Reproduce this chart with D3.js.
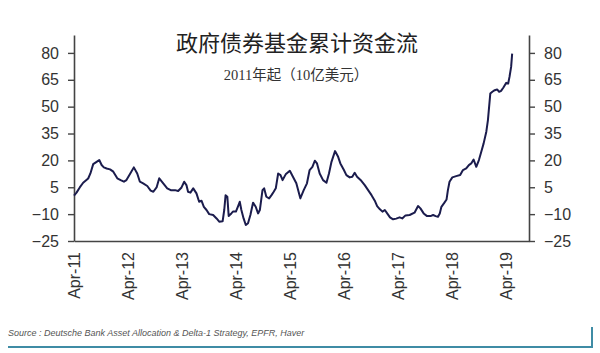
<!DOCTYPE html>
<html>
<head>
<meta charset="utf-8">
<script src="https://cdn.jsdelivr.net/npm/d3@7"></script>
<style>
  body { margin: 0; background: #fff; }
  svg { display: block; }
  .tick text { font-family: "Liberation Sans", Arial, sans-serif; fill: #333; }
</style>
</head>
<body>
<svg id="chart"></svg>
<script>
// cumulative flows into government bond funds since 2011, USD bn (x10)
const dates = [
  '2011-04-01','2011-04-18','2011-05-10','2011-06-02','2011-07-06','2011-07-21','2011-08-09','2011-09-01',
  '2011-09-19','2011-10-05','2011-10-20','2011-11-08','2011-12-01','2011-12-23','2012-01-19','2012-02-11',
  '2012-03-04','2012-03-21','2012-04-13','2012-05-10','2012-06-02','2012-06-20','2012-07-12','2012-08-09',
  '2012-09-01','2012-09-19','2012-10-11','2012-10-29','2012-11-25','2012-12-22','2013-01-15','2013-02-13',
  '2013-03-06','2013-03-29','2013-04-16','2013-05-01','2013-05-12','2013-05-28','2013-06-16','2013-07-08',
  '2013-07-26','2013-08-11','2013-08-27','2013-09-14','2013-10-02','2013-10-29','2013-11-21','2013-12-09',
  '2014-01-01','2014-01-12','2014-01-21','2014-02-02','2014-02-11','2014-03-01','2014-03-12','2014-04-01',
  '2014-04-16','2014-04-27','2014-05-08','2014-05-23','2014-06-07','2014-06-22','2014-07-08','2014-07-26',
  '2014-08-13','2014-08-29','2014-09-10','2014-09-28','2014-10-09','2014-10-24','2014-11-12','2014-11-28',
  '2014-12-13','2014-12-27','2015-01-12','2015-01-28','2015-02-11','2015-03-04','2015-04-01','2015-04-22',
  '2015-05-15','2015-06-11','2015-07-04','2015-07-26','2015-08-13','2015-09-01','2015-09-17','2015-10-02',
  '2015-10-20','2015-11-12','2015-12-05','2015-12-22','2016-01-08','2016-02-01','2016-02-22','2016-03-08',
  '2016-04-01','2016-04-18','2016-05-10','2016-05-28','2016-06-13','2016-06-29','2016-07-28','2016-08-20',
  '2016-09-12','2016-10-05','2016-10-27','2016-11-12','2016-12-01','2016-12-18','2017-01-03','2017-01-19',
  '2017-02-07','2017-02-28','2017-03-21','2017-04-13','2017-05-01','2017-05-23','2017-06-20','2017-07-23',
  '2017-08-16','2017-09-01','2017-09-23','2017-10-16','2017-11-08','2017-11-26','2017-12-13','2017-12-29',
  '2018-01-10','2018-01-21','2018-02-07','2018-02-25','2018-03-06','2018-03-17','2018-04-05','2018-05-01',
  '2018-05-28','2018-06-16','2018-07-08','2018-07-26','2018-08-11','2018-08-27','2018-09-14','2018-10-02',
  '2018-10-18','2018-11-03','2018-11-21','2018-12-02','2018-12-18','2019-01-01','2019-01-17','2019-02-02',
  '2019-02-16','2019-03-01','2019-03-17','2019-04-05','2019-04-18','2019-04-27','2019-05-08','2019-05-15'
];
const flows = [
  0.3, 2, 4.9, 7.5, 9.9, 12.7, 17.9, 19.2,
  20.2, 17.4, 16.1, 15.5, 15, 13.7, 10, 9,
  8.1, 9, 12.2, 16.1, 12.7, 8.1, 7.2, 5.7,
  3.1, 2.5, 4.9, 10, 7.2, 4.4, 3.4, 3.4,
  2.9, 4.9, 8.1, 6.2, 2.5, 2, 4.4, 1.6,
  -3.1, -2.5, -5.9, -7.7, -10, -10.5, -12.4, -14.2,
  -14, -7.7, 0.5, -0.3, -11, -9.6, -8.6, -8.6,
  -5.5, -3.1, -7.7, -12.4, -16.1, -15.1, -10.5, -3.6,
  -5.9, -9.6, -7.7, 3.4, 4.4, -0.3, -1.2, 0.6,
  2.5, 4.4, 12.7, 11.8, 9, 12.2, 14.2, 10.9,
  7.2, -1.2, 3.4, 7.2, 14.6, 16.4, 19.8, 18.3,
  12.7, 9, 7.5, 12.7, 19.2, 25.2, 22, 18.3,
  14.6, 11.8, 10.5, 10.9, 13.1, 10.9, 8.6, 6.2,
  3.4, 0.6, -2.5, -5.5, -7.3, -8.6, -7.7, -9.6,
  -11.8, -12.9, -12.5, -11.8, -12.4, -10.7, -10.5, -9.2,
  -5.5, -6.8, -9.6, -11.1, -11.1, -10.5, -11.1, -11.5,
  -9.6, -5.9, -4, -1.8, 3.4, 8.1, 10.5, 11.2,
  11.8, 14.6, 15.5, 17.4, 18.3, 20.5, 16.4, 20.2,
  24.8, 29.5, 36, 42.5, 57.3, 58.3, 59.2, 59.6,
  58.3, 58.8, 60.7, 63.3, 62.9, 66.6, 72.2, 79.6
];
const yTicks = [-25, -10, 5, 20, 35, 50, 65, 80];
const tickYears = [2011, 2012, 2013, 2014, 2015, 2016, 2017, 2018, 2019];
const title = '政府债券基金累计资金流';
const subtitle = '2011年起（10亿美元）';
const source = 'Source : Deutsche Bank Asset Allocation & Delta-1 Strategy, EPFR, Haver';

const width = 600, height = 353;
const margin = {top: 35, right: 71, bottom: 112, left: 74};

const parse = d3.timeParse('%Y-%m-%d');
const data = dates.map((d, i) => ({date: parse(d), value: flows[i]}));

const svg = d3.select('#chart')
  .attr('width', width)
  .attr('height', height);

const x = d3.scaleTime()
  .domain([new Date(2011, 3, 1), new Date(2019, 8, 6)])
  .range([margin.left, width - margin.right]);

const y = d3.scaleLinear()
  .domain([-25, 90])
  .range([height - margin.bottom, margin.top]);

// axes
const left = svg.append('g')
  .attr('transform', `translate(${margin.left},0)`)
  .call(d3.axisLeft(y).tickValues(yTicks).tickSize(6).tickSizeOuter(0).tickPadding(9));

const right = svg.append('g')
  .attr('transform', `translate(${width - margin.right},0)`)
  .call(d3.axisRight(y).tickValues(yTicks).tickSize(6).tickSizeOuter(0).tickPadding(9));

const bottom = svg.append('g')
  .attr('transform', `translate(0,${height - margin.bottom})`)
  .call(d3.axisBottom(x)
    .tickValues(tickYears.map(yr => new Date(yr, 3, 1)))
    .tickFormat(d3.timeFormat('%b-%y'))
    .tickSize(0).tickSizeOuter(0));

[left, right, bottom].forEach(g => {
  g.select('.domain').attr('stroke', '#444').attr('stroke-width', 1.6);
  g.selectAll('.tick line').attr('stroke', '#444').attr('stroke-width', 1.4);
  g.selectAll('.tick text').style('font-size', '16px');
});

bottom.selectAll('.tick text')
  .attr('transform', 'rotate(-90)')
  .attr('text-anchor', 'end')
  .attr('x', -11)
  .attr('y', 0)
  .attr('dy', '0.35em');

// line
svg.append('path')
  .datum(data)
  .attr('fill', 'none')
  .attr('stroke', '#1b1c4d')
  .attr('stroke-width', 2)
  .attr('stroke-linejoin', 'round')
  .attr('d', d3.line().x(d => x(d.date)).y(d => y(d.value)));

// titles
svg.append('text')
  .attr('x', 297).attr('y', 51)
  .attr('text-anchor', 'middle')
  .style('font-family', '"Noto Sans CJK SC", sans-serif')
  .style('font-size', '22px')
  .style('fill', '#222')
  .text(title);

svg.append('text')
  .attr('x', 296).attr('y', 80)
  .attr('text-anchor', 'middle')
  .style('font-family', '"Liberation Serif", "Noto Sans CJK SC", serif')
  .style('font-size', '14.5px')
  .style('fill', '#333')
  .text(subtitle);

// source footer
svg.append('text')
  .attr('x', 8).attr('y', 336)
  .style('font-family', '"Liberation Sans", Arial, sans-serif')
  .style('font-size', '9px')
  .style('font-style', 'italic')
  .style('fill', '#555')
  .text(source);

svg.append('path')
  .attr('d', `M8,347H592V327`)
  .attr('fill', 'none')
  .attr('stroke', '#3f8ca5')
  .attr('stroke-width', 2);
</script>
</body>
</html>
